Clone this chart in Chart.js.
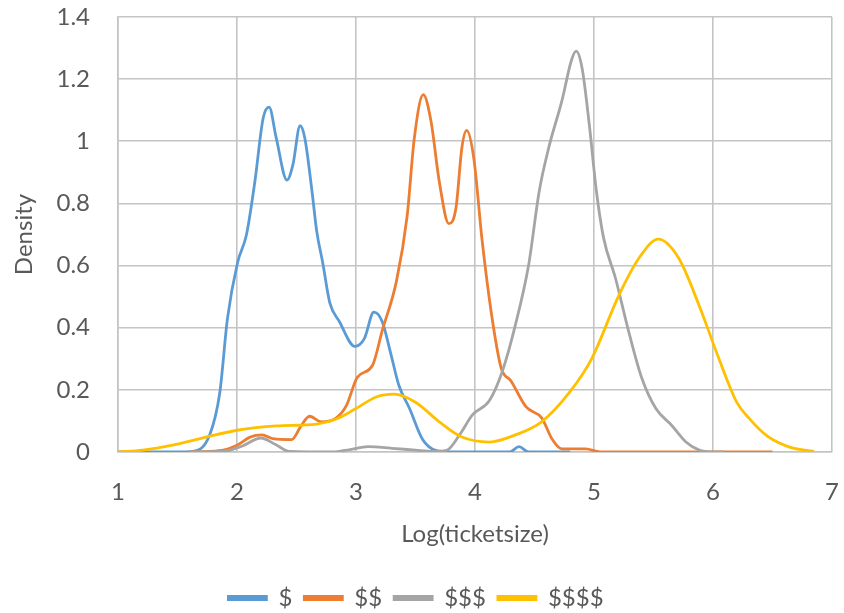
<!DOCTYPE html>
<html>
<head>
<meta charset="utf-8">
<script src="https://cdn.jsdelivr.net/npm/chart.js@4.4.0/dist/chart.umd.min.js"></script>
<style>
  html, body { margin: 0; padding: 0; background: #fff; }
  #wrap { width: 844px; height: 613px; }
</style>
</head>
<body>
<div id="wrap"><canvas id="densityChart"></canvas></div>
<script>
// series names
const seriesNames = ['$', '$$', '$$$', '$$$$'];
const seriesColors = ['#5B9BD5', '#ED7D31', '#A5A5A5', '#FFC000'];

const oneX = [1.0, 1.5, 1.63, 1.77, 1.855, 1.92, 2.005, 2.08, 2.15, 2.22, 2.27, 2.33, 2.42, 2.47, 2.53, 2.57, 2.63, 2.67, 2.72, 2.78, 2.86, 2.99, 3.07, 3.15, 3.22, 3.29, 3.36, 3.45, 3.56, 3.67, 3.8, 4.29, 4.37, 4.45, 4.8];
const oneY = [0, 0, 0.002, 0.055, 0.19, 0.43, 0.61, 0.70, 0.87, 1.075, 1.11, 1.01, 0.875, 0.925, 1.05, 1.01, 0.84, 0.71, 0.61, 0.48, 0.42, 0.34, 0.365, 0.45, 0.42, 0.32, 0.215, 0.14, 0.04, 0.005, 0, 0, 0.017, 0, 0];

// $$
const twoX = [1.6, 1.85, 2.0, 2.11, 2.21, 2.30, 2.46, 2.54, 2.61, 2.71, 2.835, 2.92, 3.01, 3.14, 3.22, 3.34, 3.43, 3.49, 3.565, 3.63, 3.70, 3.78, 3.84, 3.89, 3.93, 3.99, 4.06, 4.14, 4.22, 4.30, 4.43, 4.56, 4.65, 4.73, 4.93, 5.05, 6.5];
const twoY = [0, 0.004, 0.022, 0.048, 0.055, 0.043, 0.04, 0.085, 0.115, 0.097, 0.11, 0.15, 0.24, 0.28, 0.39, 0.55, 0.76, 1.01, 1.15, 1.065, 0.87, 0.735, 0.785, 0.98, 1.035, 0.945, 0.68, 0.44, 0.27, 0.23, 0.145, 0.11, 0.04, 0.01, 0.01, 0, 0];

// $$$
const threeX = [1.6, 1.9, 2.05, 2.2, 2.32, 2.44, 2.8, 2.95, 3.1, 3.3, 3.5, 3.65, 3.76, 3.87, 3.98, 4.12, 4.23, 4.34, 4.45, 4.54, 4.62, 4.73, 4.81, 4.85, 4.90, 4.96, 5.02, 5.08, 5.18, 5.29, 5.40, 5.52, 5.65, 5.77, 5.88, 6.0, 6.1];
const threeY = [0, 0.003, 0.02, 0.045, 0.025, 0.002, 0, 0.008, 0.017, 0.012, 0.006, 0.002, 0.005, 0.055, 0.12, 0.165, 0.26, 0.41, 0.60, 0.84, 0.98, 1.13, 1.26, 1.29, 1.235, 1.055, 0.84, 0.69, 0.56, 0.39, 0.24, 0.14, 0.087, 0.033, 0.007, 0, 0];

// $$$$
const fourX = [1.0, 1.21, 1.46, 1.69, 2.0, 2.33, 2.67, 2.84, 3.0, 3.17, 3.32, 3.50, 3.70, 3.89, 4.12, 4.34, 4.56, 4.79, 4.98, 5.21, 5.38, 5.54, 5.71, 5.88, 6.05, 6.20, 6.30, 6.46, 6.65, 6.85];
const fourY = [0, 0.006, 0.022, 0.043, 0.07, 0.084, 0.09, 0.107, 0.14, 0.177, 0.186, 0.16, 0.097, 0.048, 0.032, 0.055, 0.097, 0.19, 0.30, 0.505, 0.625, 0.685, 0.625, 0.475, 0.30, 0.16, 0.11, 0.05, 0.015, 0.002];

// tick settings
const xMin = 1, xMax = 7, xStep = 1;
const yMin = 0, yMax = 1.4, yStep = 0.2;

const xs = [oneX, twoX, threeX, fourX];
const ys = [oneY, twoY, threeY, fourY];

const textColor = '#595959';
const gridColor = '#c4c4c4';
const fontFamily = 'Lato, "Open Sans", sans-serif';

const datasets = seriesNames.map((name, i) => ({
    label: name,
    data: xs[i].map((x, j) => ({ x: x, y: ys[i][j] })),
    borderColor: seriesColors[i],
    backgroundColor: seriesColors[i],
    borderWidth: 2.8,
    pointRadius: 0,
    fill: false,
    cubicInterpolationMode: 'monotone',
    order: seriesNames.length - i   // later series drawn on top, like the original
}));

const ctx = document.getElementById('densityChart').getContext('2d');

const densityChart = new Chart(ctx, {
    type: 'line',
    data: { datasets: datasets },
    options: {
        responsive: true,
        maintainAspectRatio: false,
        animation: false,
        layout: { padding: { left: 0, right: 12, top: 17, bottom: -7 } },
        scales: {
            x: {
                type: 'linear',
                min: xMin,
                max: xMax,
                ticks: { stepSize: xStep, color: textColor, font: { family: fontFamily, size: 24 }, padding: 26 },
                grid: { color: gridColor, lineWidth: 1.6, drawTicks: false },
                border: { color: gridColor, width: 1.6 },
                title: {
                    display: true,
                    text: 'Log(ticketsize)',
                    color: textColor,
                    font: { family: fontFamily, size: 24 },
                    padding: { top: 0, bottom: 25 }
                },
                afterFit: (scale) => {
                    scale.height = 122;
                    scale.paddingRight = 0;
                }
            },
            y: {
                min: yMin,
                max: yMax,
                ticks: {
                    stepSize: yStep, color: textColor, font: { family: fontFamily, size: 24 }, padding: 28,
                    callback: (value) => String(Math.round(value * 10) / 10)
                },
                grid: { color: gridColor, lineWidth: 1.6, drawTicks: false },
                border: { color: gridColor, width: 1.6 },
                title: {
                    display: true,
                    text: 'Density',
                    color: textColor,
                    font: { family: fontFamily, size: 24 },
                    padding: { top: 10, bottom: 0 }
                },
                afterFit: (scale) => {
                    scale.width = 118;
                    scale.paddingTop = 0;
                    scale.paddingBottom = 0;
                }
            }
        },
        plugins: {
            legend: {
                position: 'bottom',
                labels: {
                    boxWidth: 38,
                    boxHeight: 3,
                    color: textColor,
                    font: { family: fontFamily, size: 24 },
                    padding: 12,
                    sort: (a, b) => a.datasetIndex - b.datasetIndex
                }
            },
            tooltip: { enabled: false }
        }
    }
});
</script>
</body>
</html>
